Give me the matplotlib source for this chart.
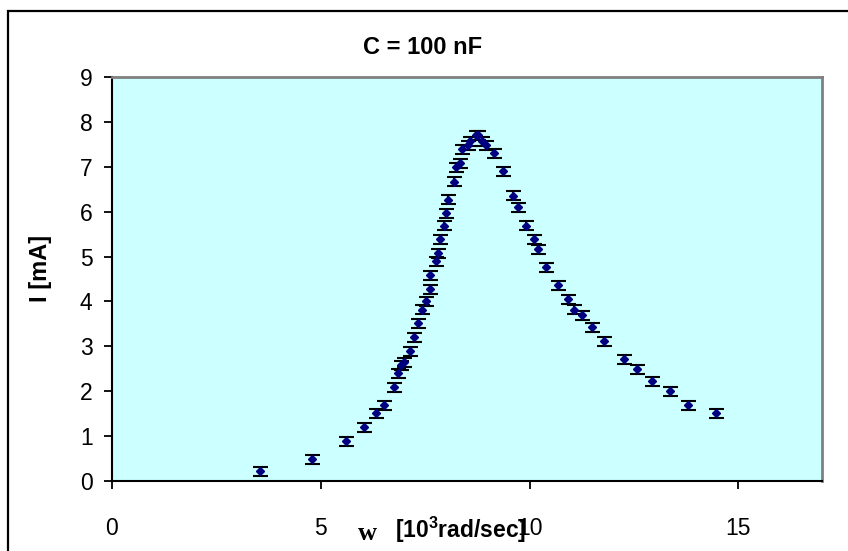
import matplotlib
matplotlib.use("Agg")
import matplotlib.pyplot as plt
from matplotlib.patches import Rectangle

plt.rcParams['font.family'] = ['Liberation Sans', 'DejaVu Sans']
plt.rcParams['mathtext.fontset'] = 'custom'
plt.rcParams['mathtext.rm'] = 'Liberation Sans:bold'

# angular frequency [10^3 rad/sec] and current [mA]
w = [3.55, 4.79, 5.61, 6.04, 6.33, 6.52, 6.76, 6.85, 6.93, 6.98,
     7.14, 7.24, 7.33, 7.43, 7.52, 7.62, 7.62, 7.76, 7.81, 7.86,
     7.96, 8.00, 8.05, 8.20, 8.24, 8.34, 8.39, 8.53, 8.58, 8.72,
     8.77, 8.87, 8.96, 9.15, 9.35, 9.59, 9.73, 9.92, 10.11, 10.21,
     10.40, 10.69, 10.93, 11.07, 11.26, 11.50, 11.79, 12.27, 12.56, 12.94,
     13.37, 13.80, 14.47]
I = [0.22, 0.48, 0.88, 1.20, 1.51, 1.69, 2.09, 2.40, 2.58, 2.65,
     2.89, 3.20, 3.51, 3.82, 4.00, 4.27, 4.58, 4.89, 5.07, 5.38,
     5.69, 5.96, 6.27, 6.67, 6.99, 7.08, 7.39, 7.48, 7.57, 7.70,
     7.70, 7.57, 7.48, 7.30, 6.90, 6.36, 6.10, 5.69, 5.38, 5.16,
     4.76, 4.36, 4.05, 3.82, 3.69, 3.42, 3.11, 2.71, 2.49, 2.22,
     2.00, 1.69, 1.51]
I_err = 0.1

xticks = [0, 5, 10, 15]
yticks = list(range(0, 10))

fig = plt.figure(figsize=(8.48, 5.51), dpi=100)
ax = fig.add_axes([112/848, 1-481/551, 710/848, 404/551])
ax.set_facecolor('#CCFFFF')

ax.errorbar(w, I, yerr=I_err, fmt='D', color='#000080', markersize=4,
            ecolor='black', elinewidth=1.5, capsize=5.4, capthick=1.5)

ax.set_xlim(0, 17)
ax.set_ylim(0, 9)
ax.set_xticks(xticks)
ax.set_yticks(yticks)
ax.tick_params(axis='both', direction='out', length=6, width=1.3,
               labelsize=16.5, color='black')
ax.tick_params(axis='x', pad=20)
ax.tick_params(axis='y', pad=8)

for s in ['top', 'right']:
    ax.spines[s].set_color('#808080')
    ax.spines[s].set_linewidth(2)
for s in ['left', 'bottom']:
    ax.spines[s].set_color('black')
    ax.spines[s].set_linewidth(1.5)

fig.text(423/848, 1-47/551, 'C = 100 nF', ha='center', va='center',
         fontsize=17, fontweight='bold')
fig.text(40/848, 1-268/551, 'I [mA]', rotation=90, ha='center', va='center',
         fontsize=17, fontweight='bold')
fig.text(367/848, 1-534/551, 'w', ha='center', va='center', fontsize=19,
         fontweight='bold', family='Liberation Serif')
fig.text(461/848, 1-530/551, r'$\mathrm{[10^{3}rad/sec]}$', ha='center',
         va='center', fontsize=16.5)

fig.patches.append(Rectangle((8/848, -0.1), 2, 1-11/551+0.1,
                             transform=fig.transFigure, fill=False,
                             edgecolor='black', linewidth=1.6))

fig.savefig('out.png', dpi=100)
